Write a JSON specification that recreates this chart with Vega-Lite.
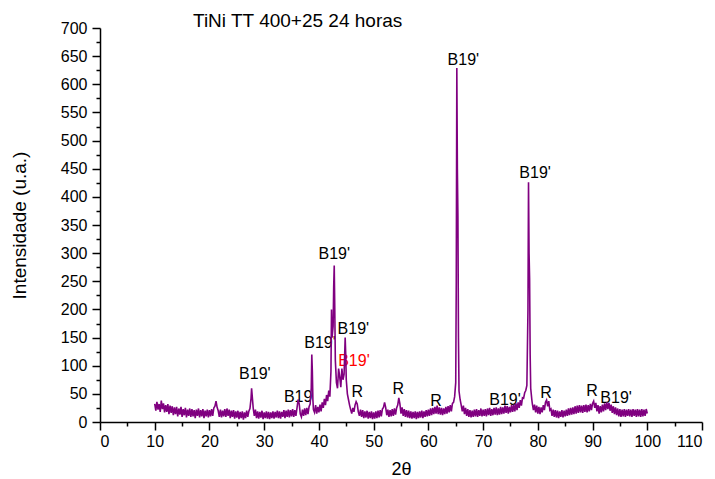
{
 "$schema": "https://vega.github.io/schema/vega-lite/v6.json",
 "width": 602,
 "height": 394,
 "autosize": "none",
 "padding": {"left": 100, "top": 28, "right": 13, "bottom": 57},
 "background": "white",
 "config": {"view": {"stroke": null}, "font": "Liberation Sans"},
 "title": {"text": "TiNi TT 400+25 24 horas", "anchor": "start", "frame": "group", "dx": 93, "dy": 13, "offset": 2, "fontSize": 19, "fontWeight": "normal", "color": "black", "font": "Liberation Sans"},
 "datasets": {
  "xrd": [
{"t":10.0,"i":32},{"t":10.2,"i":20},{"t":10.4,"i":36},{"t":10.6,"i":22},{"t":10.8,"i":32},{"t":11.0,"i":18},{"t":11.2,"i":38},{"t":11.4,"i":23},{"t":11.6,"i":33},{"t":11.8,"i":17},{"t":12.0,"i":30},{"t":12.2,"i":18},{"t":12.4,"i":32},{"t":12.6,"i":14},{"t":12.8,"i":29},{"t":13.0,"i":16},
{"t":13.2,"i":28},{"t":13.4,"i":12},{"t":13.6,"i":26},{"t":13.8,"i":14},{"t":14.0,"i":27},{"t":14.2,"i":10},{"t":14.4,"i":24},{"t":14.6,"i":13},{"t":14.8,"i":27},{"t":15.0,"i":9},{"t":15.2,"i":23},{"t":15.4,"i":12},{"t":15.6,"i":25},{"t":15.8,"i":8},{"t":16.0,"i":22},{"t":16.2,"i":11},{"t":16.4,"i":24},{"t":16.6,"i":9},{"t":16.8,"i":23},{"t":17.0,"i":10},{"t":17.2,"i":21},{"t":17.4,"i":7},{"t":17.6,"i":22},{"t":17.8,"i":11},{"t":18.0,"i":24},{"t":18.2,"i":8},{"t":18.4,"i":21},{"t":18.6,"i":10},{"t":18.8,"i":23},{"t":19.0,"i":7},{"t":19.2,"i":20},{"t":19.4,"i":10},{"t":19.6,"i":22},{"t":19.8,"i":8},{"t":20.0,"i":21},
{"t":20.2,"i":10},{"t":20.4,"i":23},{"t":20.6,"i":11},{"t":20.8,"i":25},{"t":21.0,"i":28},{"t":21.2,"i":37},{"t":21.4,"i":26},{"t":21.6,"i":20},{"t":21.8,"i":9},{"t":22.0,"i":22},{"t":22.2,"i":8},{"t":22.4,"i":20},{"t":22.6,"i":10},{"t":22.8,"i":23},{"t":23.0,"i":9},{"t":23.2,"i":24},{"t":23.4,"i":11},{"t":23.6,"i":22},{"t":23.8,"i":7},{"t":24.0,"i":20},{"t":24.2,"i":9},{"t":24.4,"i":21},{"t":24.6,"i":6},{"t":24.8,"i":19},{"t":25.0,"i":8},{"t":25.2,"i":20},{"t":25.4,"i":5},{"t":25.6,"i":18},{"t":25.8,"i":7},{"t":26.0,"i":19},{"t":26.2,"i":4},{"t":26.4,"i":17},{"t":26.6,"i":7},{"t":26.8,"i":20},{"t":27.0,"i":9},{"t":27.2,"i":19},{"t":27.4,"i":24},{"t":27.6,"i":42},{"t":27.7,"i":60},{"t":27.8,"i":48},{"t":28.0,"i":24},{"t":28.2,"i":11},{"t":28.4,"i":22},{"t":28.6,"i":7},{"t":28.8,"i":19},{"t":29.0,"i":6},{"t":29.2,"i":18},{"t":29.4,"i":8},{"t":29.6,"i":20},{"t":29.8,"i":5},{"t":30.0,"i":17},
{"t":30.2,"i":7},{"t":30.4,"i":19},{"t":30.6,"i":6},{"t":30.8,"i":18},{"t":31.0,"i":5},{"t":31.2,"i":17},{"t":31.4,"i":7},{"t":31.6,"i":19},{"t":31.8,"i":6},{"t":32.0,"i":18},{"t":32.2,"i":8},{"t":32.4,"i":20},{"t":32.6,"i":7},{"t":32.8,"i":19},{"t":33.0,"i":6},{"t":33.2,"i":18},{"t":33.4,"i":9},{"t":33.6,"i":21},{"t":33.8,"i":7},{"t":34.0,"i":20},{"t":34.2,"i":9},{"t":34.4,"i":22},{"t":34.6,"i":8},{"t":34.8,"i":21},{"t":35.0,"i":10},{"t":35.2,"i":23},{"t":35.4,"i":9},{"t":35.6,"i":21},{"t":35.8,"i":11},{"t":36.0,"i":25},{"t":36.2,"i":40},{"t":36.4,"i":32},{"t":36.6,"i":14},{"t":36.8,"i":9},{"t":37.0,"i":22},{"t":37.2,"i":11},{"t":37.4,"i":24},{"t":37.6,"i":12},{"t":37.8,"i":25},{"t":38.0,"i":14},{"t":38.2,"i":27},{"t":38.4,"i":32},{"t":38.6,"i":60},{"t":38.7,"i":120},{"t":38.8,"i":90},{"t":38.9,"i":40},{"t":39.0,"i":22},{"t":39.2,"i":17},{"t":39.4,"i":30},{"t":39.6,"i":15},{"t":39.8,"i":27},{"t":40.0,"i":17},
{"t":40.2,"i":31},{"t":40.4,"i":19},{"t":40.6,"i":35},{"t":40.8,"i":25},{"t":41.0,"i":41},{"t":41.2,"i":30},{"t":41.4,"i":48},{"t":41.6,"i":37},{"t":41.8,"i":56},{"t":42.0,"i":45},{"t":42.2,"i":90},{"t":42.3,"i":200},{"t":42.4,"i":150},{"t":42.6,"i":170},{"t":42.7,"i":240},{"t":42.8,"i":278},{"t":42.9,"i":200},{"t":43.0,"i":110},{"t":43.2,"i":70},{"t":43.4,"i":60},{"t":43.6,"i":95},{"t":43.8,"i":80},{"t":44.0,"i":62},{"t":44.2,"i":95},{"t":44.4,"i":75},{"t":44.6,"i":85},{"t":44.8,"i":150},{"t":44.9,"i":120},{"t":45.0,"i":75},{"t":45.2,"i":50},{"t":45.4,"i":40},{"t":45.6,"i":30},{"t":45.8,"i":22},{"t":46.0,"i":15},{"t":46.2,"i":25},{"t":46.4,"i":18},{"t":46.6,"i":30},{"t":46.8,"i":36},{"t":47.0,"i":32},{"t":47.2,"i":18},{"t":47.4,"i":11},{"t":47.6,"i":22},{"t":47.8,"i":9},{"t":48.0,"i":21},{"t":48.2,"i":7},{"t":48.4,"i":19},{"t":48.6,"i":8},{"t":48.8,"i":20},{"t":49.0,"i":6},{"t":49.2,"i":18},{"t":49.4,"i":7},{"t":49.6,"i":19},{"t":49.8,"i":5},{"t":50.0,"i":17},
{"t":50.2,"i":6},{"t":50.4,"i":19},{"t":50.6,"i":7},{"t":50.8,"i":20},{"t":51.0,"i":8},{"t":51.2,"i":21},{"t":51.4,"i":10},{"t":51.6,"i":23},{"t":51.8,"i":26},{"t":52.0,"i":35},{"t":52.2,"i":26},{"t":52.4,"i":12},{"t":52.6,"i":22},{"t":52.8,"i":9},{"t":53.0,"i":21},{"t":53.2,"i":10},{"t":53.4,"i":23},{"t":53.6,"i":11},{"t":53.8,"i":24},{"t":54.0,"i":13},{"t":54.2,"i":25},{"t":54.4,"i":30},{"t":54.6,"i":43},{"t":54.8,"i":32},{"t":55.0,"i":15},{"t":55.2,"i":26},{"t":55.4,"i":11},{"t":55.6,"i":23},{"t":55.8,"i":9},{"t":56.0,"i":21},{"t":56.2,"i":8},{"t":56.4,"i":20},{"t":56.6,"i":7},{"t":56.8,"i":19},{"t":57.0,"i":6},{"t":57.2,"i":18},{"t":57.4,"i":7},{"t":57.6,"i":19},{"t":57.8,"i":5},{"t":58.0,"i":18},{"t":58.2,"i":7},{"t":58.4,"i":19},{"t":58.6,"i":8},{"t":58.8,"i":20},{"t":59.0,"i":7},{"t":59.2,"i":19},{"t":59.4,"i":9},{"t":59.6,"i":21},{"t":59.8,"i":10},{"t":60.0,"i":22},
{"t":60.2,"i":11},{"t":60.4,"i":24},{"t":60.6,"i":12},{"t":60.8,"i":25},{"t":61.0,"i":14},{"t":61.2,"i":27},{"t":61.4,"i":15},{"t":61.6,"i":29},{"t":61.8,"i":14},{"t":62.0,"i":26},{"t":62.2,"i":13},{"t":62.4,"i":25},{"t":62.6,"i":12},{"t":62.8,"i":24},{"t":63.0,"i":14},{"t":63.2,"i":27},{"t":63.4,"i":15},{"t":63.6,"i":28},{"t":63.8,"i":17},{"t":64.0,"i":30},{"t":64.2,"i":19},{"t":64.4,"i":33},{"t":64.6,"i":35},{"t":64.8,"i":45},{"t":65.0,"i":70},{"t":65.1,"i":250},{"t":65.2,"i":629},{"t":65.3,"i":450},{"t":65.4,"i":365},{"t":65.5,"i":150},{"t":65.6,"i":55},{"t":65.8,"i":40},{"t":66.0,"i":30},{"t":66.2,"i":19},{"t":66.4,"i":29},{"t":66.6,"i":14},{"t":66.8,"i":25},{"t":67.0,"i":11},{"t":67.2,"i":23},{"t":67.4,"i":9},{"t":67.6,"i":21},{"t":67.8,"i":8},{"t":68.0,"i":20},{"t":68.2,"i":9},{"t":68.4,"i":22},{"t":68.6,"i":10},{"t":68.8,"i":23},{"t":69.0,"i":9},{"t":69.2,"i":21},{"t":69.4,"i":11},{"t":69.6,"i":24},{"t":69.8,"i":10},{"t":70.0,"i":22},
{"t":70.2,"i":11},{"t":70.4,"i":23},{"t":70.6,"i":10},{"t":70.8,"i":24},{"t":71.0,"i":12},{"t":71.2,"i":25},{"t":71.4,"i":11},{"t":71.6,"i":23},{"t":71.8,"i":12},{"t":72.0,"i":25},{"t":72.2,"i":13},{"t":72.4,"i":26},{"t":72.6,"i":12},{"t":72.8,"i":24},{"t":73.0,"i":13},{"t":73.2,"i":27},{"t":73.4,"i":14},{"t":73.6,"i":26},{"t":73.8,"i":15},{"t":74.0,"i":29},{"t":74.2,"i":16},{"t":74.4,"i":28},{"t":74.6,"i":15},{"t":74.8,"i":27},{"t":75.0,"i":17},{"t":75.2,"i":30},{"t":75.4,"i":18},{"t":75.6,"i":31},{"t":75.8,"i":19},{"t":76.0,"i":33},{"t":76.2,"i":21},{"t":76.4,"i":35},{"t":76.6,"i":25},{"t":76.8,"i":39},{"t":77.0,"i":29},{"t":77.2,"i":43},{"t":77.4,"i":42},{"t":77.6,"i":52},{"t":77.8,"i":56},{"t":78.0,"i":65},{"t":78.2,"i":200},{"t":78.3,"i":426},{"t":78.4,"i":300},{"t":78.5,"i":255},{"t":78.6,"i":120},{"t":78.7,"i":60},{"t":78.9,"i":40},{"t":79.0,"i":32},{"t":79.2,"i":21},{"t":79.4,"i":31},{"t":79.6,"i":17},{"t":79.8,"i":29},{"t":80.0,"i":15},
{"t":80.2,"i":27},{"t":80.4,"i":14},{"t":80.6,"i":26},{"t":80.8,"i":17},{"t":81.0,"i":30},{"t":81.2,"i":21},{"t":81.4,"i":35},{"t":81.6,"i":39},{"t":81.8,"i":28},{"t":82.0,"i":37},{"t":82.2,"i":21},{"t":82.4,"i":23},{"t":82.6,"i":11},{"t":82.8,"i":22},{"t":83.0,"i":9},{"t":83.2,"i":21},{"t":83.4,"i":8},{"t":83.6,"i":20},{"t":83.8,"i":7},{"t":84.0,"i":19},{"t":84.2,"i":9},{"t":84.4,"i":21},{"t":84.6,"i":8},{"t":84.8,"i":20},{"t":85.0,"i":10},{"t":85.2,"i":22},{"t":85.4,"i":11},{"t":85.6,"i":24},{"t":85.8,"i":12},{"t":86.0,"i":25},{"t":86.2,"i":13},{"t":86.4,"i":26},{"t":86.6,"i":14},{"t":86.8,"i":28},{"t":87.0,"i":15},{"t":87.2,"i":29},{"t":87.4,"i":16},{"t":87.6,"i":30},{"t":87.8,"i":17},{"t":88.0,"i":29},{"t":88.2,"i":16},{"t":88.4,"i":30},{"t":88.6,"i":18},{"t":88.8,"i":31},{"t":89.0,"i":17},{"t":89.2,"i":30},{"t":89.4,"i":19},{"t":89.6,"i":32},{"t":89.8,"i":21},{"t":90.0,"i":33},
{"t":90.2,"i":37},{"t":90.4,"i":25},{"t":90.6,"i":34},{"t":90.8,"i":19},{"t":91.0,"i":30},{"t":91.2,"i":15},{"t":91.4,"i":28},{"t":91.6,"i":17},{"t":91.8,"i":31},{"t":92.0,"i":19},{"t":92.2,"i":33},{"t":92.4,"i":21},{"t":92.6,"i":35},{"t":92.8,"i":23},{"t":93.0,"i":34},{"t":93.2,"i":20},{"t":93.4,"i":31},{"t":93.6,"i":16},{"t":93.8,"i":28},{"t":94.0,"i":14},{"t":94.2,"i":26},{"t":94.4,"i":12},{"t":94.6,"i":24},{"t":94.8,"i":10},{"t":95.0,"i":23},{"t":95.2,"i":9},{"t":95.4,"i":22},{"t":95.6,"i":10},{"t":95.8,"i":23},{"t":96.0,"i":9},{"t":96.2,"i":22},{"t":96.4,"i":11},{"t":96.6,"i":23},{"t":96.8,"i":10},{"t":97.0,"i":22},{"t":97.2,"i":9},{"t":97.4,"i":23},{"t":97.6,"i":11},{"t":97.8,"i":22},{"t":98.0,"i":9},{"t":98.2,"i":23},{"t":98.4,"i":10},{"t":98.6,"i":22},{"t":98.8,"i":9},{"t":99.0,"i":23},{"t":99.2,"i":10},{"t":99.4,"i":22},{"t":99.6,"i":11},{"t":99.8,"i":23},{"t":100.0,"i":15}
  ],
  "labels": [
   {"t":28.3,"i":85,"s":"B19'","c":"black"},
   {"t":36.2,"i":44,"s":"B19","c":"black"},
   {"t":40.2,"i":140,"s":"B19'","c":"black"},
   {"t":42.8,"i":298,"s":"B19'","c":"black"},
   {"t":46.3,"i":165,"s":"B19'","c":"black"},
   {"t":46.4,"i":108,"s":"B19'","c":"#ff0000"},
   {"t":47.0,"i":53,"s":"R","c":"black"},
   {"t":54.5,"i":59,"s":"R","c":"black"},
   {"t":61.4,"i":37,"s":"R","c":"black"},
   {"t":66.4,"i":643,"s":"B19'","c":"black"},
   {"t":74.0,"i":39,"s":"B19'","c":"black"},
   {"t":79.5,"i":442,"s":"B19'","c":"black"},
   {"t":81.5,"i":52,"s":"R","c":"black"},
   {"t":89.9,"i":55,"s":"R","c":"black"},
   {"t":94.3,"i":43,"s":"B19'","c":"black"}
  ]
 },
 "layer": [
  {
   "data": {"name": "labels"},
   "mark": {"type": "text", "fontSize": 16, "font": "Liberation Sans", "baseline": "middle", "align": "center"},
   "encoding": {
    "x": {"field": "t", "type": "quantitative", "scale": {"domain": [0, 110], "nice": false},
          "axis": {"orient": "bottom", "values": [5,15,25,35,45,55,65,75,85,95,105], "labels": false, "domain": false, "grid": false, "tickSize": 4, "tickWidth": 1.5, "tickColor": "black", "title": null}},
    "y": {"field": "i", "type": "quantitative", "scale": {"domain": [0, 700], "nice": false},
          "axis": {"orient": "left", "values": [25,75,125,175,225,275,325,375,425,475,525,575,625,675], "labels": false, "domain": false, "grid": false, "tickSize": 4, "tickWidth": 1.5, "tickColor": "black", "title": null}},
    "text": {"field": "s"},
    "color": {"field": "c", "type": "nominal", "scale": null}
   }
  },
  {
   "data": {"name": "xrd"},
   "mark": {"type": "line", "color": "#800080", "strokeWidth": 1.6, "clip": true},
   "encoding": {
    "x": {"field": "t", "type": "quantitative", "scale": {"domain": [0, 110], "nice": false},
          "axis": {"orient": "bottom", "values": [0,10,20,30,40,50,60,70,80,90,100,110], "grid": false, "tickSize": 8, "tickWidth": 1.5, "tickColor": "black", "domainColor": "black", "domainWidth": 1.5, "labelFontSize": 16, "labelColor": "black", "labelPadding": 3, "labelFont": "Liberation Sans", "title": "2θ", "titleFontSize": 18, "titleFontWeight": "normal", "titleColor": "black", "titlePadding": 11, "titleFont": "Liberation Sans"}},
    "y": {"field": "i", "type": "quantitative", "scale": {"domain": [0, 700], "nice": false},
          "axis": {"orient": "left", "values": [0,50,100,150,200,250,300,350,400,450,500,550,600,650,700], "grid": false, "tickSize": 8, "tickWidth": 1.5, "tickColor": "black", "domainColor": "black", "domainWidth": 1.5, "labelFontSize": 16, "labelColor": "black", "labelPadding": 5, "labelFont": "Liberation Sans", "title": "Intensidade (u.a.)", "titleFontSize": 19, "titleFontWeight": "normal", "titleColor": "black", "titlePadding": 31, "titleFont": "Liberation Sans"}}
   }
  }
 ],
 "resolve": {"axis": {"x": "independent", "y": "independent"}}
}
